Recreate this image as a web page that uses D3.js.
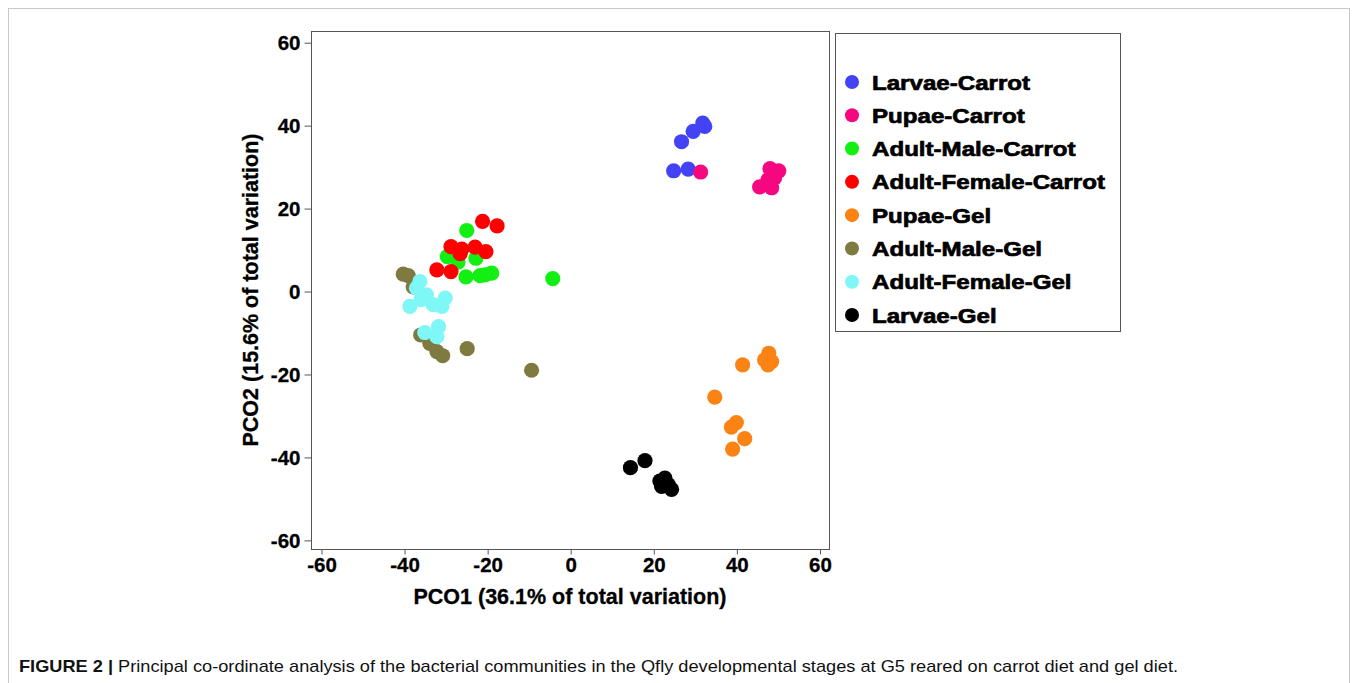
<!DOCTYPE html>
<html>
<head>
<meta charset="utf-8">
<script src="https://cdn.jsdelivr.net/npm/d3@7"></script>
<style>
  body { margin: 0; background: #fff; }
  svg { display: block; }
  text { font-family: "Liberation Sans", Arial, sans-serif; }
</style>
</head>
<body>
<script>
// ---- data ----
const seriesNames = ["Larvae-Carrot", "Pupae-Carrot", "Adult-Male-Carrot", "Adult-Female-Carrot",
                     "Pupae-Gel", "Adult-Male-Gel", "Adult-Female-Gel", "Larvae-Gel"];
const seriesColors = ["#4343f5", "#f5077f", "#12ef12", "#ff0000", "#fb8314", "#7f7b40", "#80f7f7", "#000000"];

const larvaeCarrot = [[26.8,36.0],[29.6,38.5],[31.9,40.5],[32.4,39.7],[24.9,29.0],[28.4,29.4]];
const pupaeCarrot = [[31.4,28.7],[45.6,25.1],[48.5,24.9],[48.1,29.5],[50.2,29.0],[49.2,27.3],[47.6,26.8],[48.5,28.0]];
const adultMaleCarrot = [[-24.9,14.6],[-29.6,8.3],[-22.7,7.9],[-27.0,7.0],[-25.1,3.4],[-21.7,3.7],[-18.9,4.3],[-20.5,3.9],[-4.2,3.0]];
const adultFemaleCarrot = [[-21.1,16.8],[-17.6,15.7],[-28.7,10.7],[-26.1,10.1],[-22.9,10.6],[-20.3,9.5],[-26.5,9.0],[-32.1,5.1],[-28.7,4.7]];
const pupaeGel = [[41.5,-17.8],[47.8,-15.0],[46.8,-16.6],[48.5,-17.0],[47.6,-17.8],[34.8,-25.6],[40.0,-31.7],[38.8,-32.8],[42.0,-35.6],[39.1,-38.1]];
const adultMaleGel = [[-40.2,4.1],[-39.0,3.7],[-37.8,1.0],[-36.0,-10.6],[-33.8,-12.6],[-32.1,-14.6],[-30.7,-15.6],[-24.8,-13.9],[-9.3,-19.1]];
const adultFemaleGel = [[-36.2,2.3],[-37.0,0.7],[-34.6,-0.9],[-35.9,-2.1],[-38.6,-3.7],[-33.0,-3.3],[-30.1,-1.7],[-30.9,-3.7],[-31.7,-8.6],[-35.0,-10.0],[-32.1,-11.0]];
const larvaeGel = [[14.5,-42.6],[18.0,-40.9],[21.6,-45.8],[22.8,-45.1],[23.6,-46.7],[22.0,-47.1],[24.4,-47.8]];

const seriesData = [larvaeCarrot, pupaeCarrot, adultMaleCarrot, adultFemaleCarrot, pupaeGel, adultMaleGel, adultFemaleGel, larvaeGel];

const xTicks = [-60, -40, -20, 0, 20, 40, 60];
const yTicks = [-60, -40, -20, 0, 20, 40, 60];
const xTitle = "PCO1 (36.1% of total variation)";
const yTitle = "PCO2 (15.6% of total variation)";
const captionBold = "FIGURE 2 |";
const captionText = " Principal co-ordinate analysis of the bacterial communities in the Qfly developmental stages at G5 reared on carrot diet and gel diet.";

// ---- layout ----
const W = 1358, H = 683;
const svg = d3.select("body").append("svg").attr("width", W).attr("height", H);

// outer figure frame
svg.append("rect").attr("x", 8.5).attr("y", 8.5).attr("width", 1341).attr("height", 720)
  .attr("fill", "none").attr("stroke", "#c8c8c8").attr("stroke-width", 1);

const box = {left: 311, right: 829, top: 31, bottom: 549};
const x = d3.scaleLinear().domain([-62.4, 62.3]).range([box.left, box.right]);
const y = d3.scaleLinear().domain([-62.2, 62.7]).range([box.bottom, box.top]);

// plot frame
svg.append("rect").attr("x", box.left + 0.5).attr("y", box.top + 0.5)
  .attr("width", box.right - box.left).attr("height", box.bottom - box.top)
  .attr("fill", "none").attr("stroke", "#555").attr("stroke-width", 1);

// axes
const fmt = d => String(d);
const xAxis = svg.append("g").attr("transform", `translate(0.5,${box.bottom + 0.5})`)
  .call(d3.axisBottom(x).tickValues(xTicks).tickSize(5).tickPadding(3).tickFormat(fmt));
const yAxis = svg.append("g").attr("transform", `translate(${box.left + 0.5},0.5)`)
  .call(d3.axisLeft(y).tickValues(yTicks).tickSize(7).tickPadding(4).tickFormat(fmt));
[xAxis, yAxis].forEach(g => {
  g.select(".domain").remove();
  g.selectAll(".tick line").attr("stroke", "#555");
  g.selectAll(".tick text").attr("fill", "#000").style("font-size", "20.5px").style("font-weight", "bold")
    .style("font-family", '"Liberation Sans", Arial, sans-serif')
    .attr("stroke", "#000").attr("stroke-width", 0.3);
});
yAxis.selectAll(".tick text").attr("dy", "0.35em");

// axis titles
svg.append("text").attr("x", (box.left + box.right) / 2).attr("y", 604)
  .attr("text-anchor", "middle").style("font-size", "21.5px").style("font-weight", "bold")
  .attr("stroke", "#000").attr("stroke-width", 0.3)
  .text(xTitle);
svg.append("text").attr("transform", `translate(258,${(box.top + box.bottom) / 2}) rotate(-90)`)
  .attr("text-anchor", "middle").style("font-size", "21.5px").style("font-weight", "bold")
  .attr("stroke", "#000").attr("stroke-width", 0.3)
  .text(yTitle);

// points
const plot = svg.append("g");
seriesData.forEach((pts, i) => {
  plot.selectAll(null).data(pts).enter().append("circle")
    .attr("cx", d => x(d[0])).attr("cy", d => y(d[1])).attr("r", 7.6)
    .attr("fill", seriesColors[i]);
});

// legend
const lg = svg.append("g");
lg.append("rect").attr("x", 835.5).attr("y", 33.5).attr("width", 285).attr("height", 298)
  .attr("fill", "#fff").attr("stroke", "#555").attr("stroke-width", 1);
const legendY = d3.scalePoint().domain(seriesNames).range([82, 315]);
const legendTexts = [];
seriesNames.forEach((name, i) => {
  lg.append("circle").attr("cx", 852).attr("cy", legendY(name)).attr("r", 7)
    .attr("fill", seriesColors[i]);
  legendTexts.push(lg.append("text").attr("x", 872).attr("y", legendY(name)).attr("dy", "0.36em")
    .style("font-size", "21px").style("font-weight", "bold")
    .attr("stroke", "#000").attr("stroke-width", 0.7).text(name));
});
// stretch legend labels horizontally to match the wide bold face of the original
const refLen = legendTexts[3].node().getComputedTextLength();
const stretch = 233 / refLen;
legendTexts.forEach(t => {
  const L = t.node().getComputedTextLength();
  t.attr("textLength", L * stretch).attr("lengthAdjust", "spacingAndGlyphs");
});

// caption
const cap = svg.append("text").attr("x", 19).attr("y", 672).style("font-size", "17px").attr("fill", "#111");
cap.append("tspan").style("font-weight", "bold").text(captionBold);
cap.append("tspan").text(captionText);
cap.attr("textLength", 1159).attr("lengthAdjust", "spacingAndGlyphs");
</script>
</body>
</html>
